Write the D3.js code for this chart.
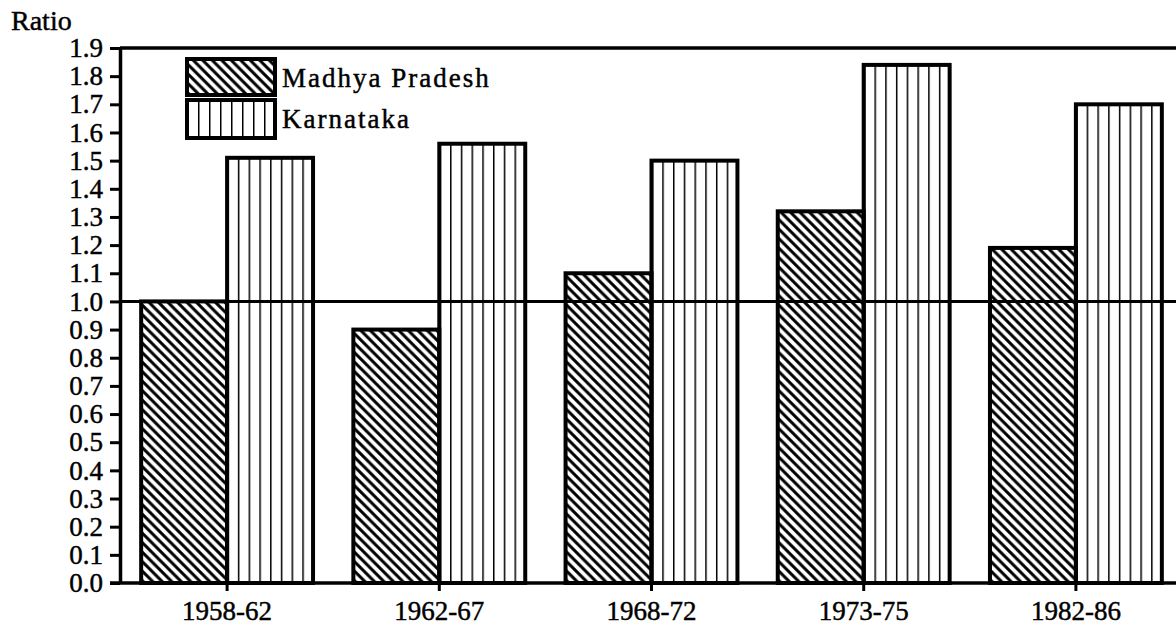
<!DOCTYPE html>
<html>
<head>
<meta charset="utf-8">
<script src="https://cdn.jsdelivr.net/npm/d3@7"></script>
<style>
  body { margin: 0; background: #fff; }
  text { font-family: "Liberation Serif", "DejaVu Serif", serif; fill: #000; stroke: #000; stroke-width: 0.45; }
</style>
</head>
<body>
<div id="chart"></div>
<script>
// data
var periods = ["1958-62", "1962-67", "1968-72", "1973-75", "1982-86"];
var madhya = [1.00, 0.90, 1.10, 1.32, 1.19];
var karnataka = [1.51, 1.56, 1.50, 1.84, 1.70];
var seriesNames = ["Madhya Pradesh", "Karnataka"];
var yTicks = [0.0, 0.1, 0.2, 0.3, 0.4, 0.5, 0.6, 0.7, 0.8, 0.9,
              1.0, 1.1, 1.2, 1.3, 1.4, 1.5, 1.6, 1.7, 1.8, 1.9];
var refValue = 1.0;

var svgWidth = 1176;
var svgHeight = 628;

var svg = d3.select("#chart")
  .append("svg")
  .attr("width", svgWidth)
  .attr("height", svgHeight);

// hatch patterns
var defs = svg.append("defs");

defs.append("pattern")
  .attr("id", "diag")
  .attr("patternUnits", "userSpaceOnUse")
  .attr("width", 9.5)
  .attr("height", 9.5)
  .append("path")
  .attr("d", "M-2,-2L11.5,11.5M-2,7.5L2,11.5M7.5,-2L11.5,2")
  .attr("stroke", "#000")
  .attr("stroke-width", 3);

var vert = defs.append("pattern")
  .attr("id", "vert")
  .attr("patternUnits", "objectBoundingBox")
  .attr("width", 1 / 8)
  .attr("height", 1);
vert.append("rect")
  .attr("x", -1.4)
  .attr("y", 0)
  .attr("width", 2.9)
  .attr("height", 1000)
  .attr("fill", "#000");

// scales
var x0 = d3.scaleBand()
  .domain(periods)
  .range([121, 1182])
  .paddingInner(0.19)
  .paddingOuter(0.095);

var x1 = d3.scaleBand()
  .domain([0, 1])
  .range([0, x0.bandwidth()]);

var y = d3.scaleLinear()
  .domain([0, 1.9])
  .range([583, 48]);

var fills = ["url(#diag)", "url(#vert)"];

// bars
var groups = svg.selectAll(".grp")
  .data(periods)
  .enter()
  .append("g")
  .attr("class", "grp")
  .attr("transform", d => `translate(${x0(d)},0)`);

groups.selectAll("rect")
  .data((d, i) => [madhya[i], karnataka[i]])
  .enter()
  .append("rect")
  .attr("x", (d, j) => x1(j))
  .attr("y", d => y(d))
  .attr("width", x1.bandwidth())
  .attr("height", d => y(0) - y(d))
  .attr("fill", (d, j) => fills[j])
  .attr("stroke", "#000")
  .attr("stroke-width", 4);

// reference line at 1.0 and top frame
svg.append("line")
  .attr("x1", 120).attr("x2", svgWidth)
  .attr("y1", y(refValue)).attr("y2", y(refValue))
  .attr("stroke", "#000")
  .attr("stroke-width", 3);

svg.append("line")
  .attr("x1", 120).attr("x2", svgWidth)
  .attr("y1", y(1.9)).attr("y2", y(1.9))
  .attr("stroke", "#000")
  .attr("stroke-width", 3.5);

// y axis
var leftAxis = d3.axisLeft(y)
  .tickValues(yTicks)
  .tickFormat(d3.format(".1f"))
  .tickSizeInner(10)
  .tickSizeOuter(0)
  .tickPadding(7);

var yG = svg.append("g")
  .attr("transform", "translate(120,0)")
  .call(leftAxis);
yG.select(".domain").attr("stroke-width", 3.5);
yG.selectAll(".tick line").attr("stroke-width", 3);
yG.selectAll(".tick text")
  .attr("font-size", 27)
  .attr("font-family", null);

// x axis
var bottomAxis = d3.axisBottom(x0)
  .tickSizeInner(8)
  .tickSizeOuter(0);

var xG = svg.append("g")
  .attr("transform", "translate(0,583)")
  .call(bottomAxis);
xG.select(".domain").remove();
xG.append("line")
  .attr("x1", 110).attr("x2", svgWidth)
  .attr("stroke", "#000")
  .attr("stroke-width", 3.5);
xG.selectAll(".tick line").attr("stroke-width", 3);
xG.selectAll(".tick text")
  .attr("font-size", 27)
  .attr("font-family", null)
  .attr("y", 37)
  .attr("dy", 0);

// axis title
svg.append("text")
  .attr("x", 11)
  .attr("y", 30)
  .attr("font-size", 28)
  .text("Ratio");

// legend
var legend = svg.selectAll(".legend")
  .data(seriesNames)
  .enter()
  .append("g")
  .attr("class", "legend");

legend.append("rect")
  .attr("x", 187)
  .attr("y", (d, i) => i === 0 ? 59 : 100)
  .attr("width", 88)
  .attr("height", (d, i) => i === 0 ? 36 : 38)
  .attr("fill", (d, i) => fills[i])
  .attr("stroke", "#000")
  .attr("stroke-width", 4);

legend.append("text")
  .attr("x", 282)
  .attr("y", (d, i) => i === 0 ? 87 : 128)
  .attr("font-size", 27)
  .attr("letter-spacing", 2)
  .text(d => d);
</script>
</body>
</html>
